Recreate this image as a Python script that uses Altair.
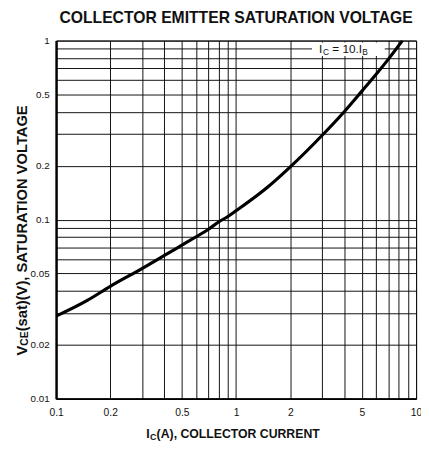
import altair as alt
import pandas as pd

# Curve (collector current in A, V_CE(sat) in V)
ic_amps = [0.1, 0.15, 0.2, 0.3, 0.4, 0.5, 0.6, 0.7, 0.8, 0.9, 1.0, 1.5, 2.0, 3.0, 4.0, 5.0, 6.0, 7.0, 8.4]
vce_sat = [0.0289, 0.0355, 0.0424, 0.0533, 0.0631, 0.072, 0.0802, 0.0881, 0.097, 0.104, 0.112,
           0.152, 0.197, 0.295, 0.402, 0.522, 0.648, 0.785, 1.0]

# Grid / tick values
x_grid = [0.1, 0.2, 0.3, 0.4, 0.5, 0.6, 0.7, 0.8, 0.9, 1, 2, 3, 4, 5, 6, 7, 8, 9, 10]
y_grid = [0.01, 0.02, 0.03, 0.04, 0.05, 0.06, 0.07, 0.08, 0.09,
          0.1, 0.2, 0.3, 0.4, 0.5, 0.6, 0.7, 0.8, 0.9, 1]
x_label_vals = [0.1, 0.2, 0.5, 1, 2, 5, 10]
x_label_txt = ["0.1", "0.2", "0.5", "1", "2", "5", "10"]
y_label_vals = [0.01, 0.02, 0.05, 0.1, 0.2, 0.5, 1]
y_label_txt = ["0.01", "0.02", "0.05", "0.1", "0.2", "0.5", "1"]

# Annotation "IC = 10.IB" (data units)
note_x = 2.89
note_y = 0.90
box_x = [2.64, 6.7]
box_y = [0.82, 0.975]

FONT = "Liberation Sans"
INK = "#111"


def label_expr(vals, txt):
    return (f"indexof({vals}, datum.value) >= 0 ? "
            f"{txt}[indexof({vals}, datum.value)] : ''")


df = pd.DataFrame({"ic": ic_amps, "vce": vce_sat})

xs = alt.Scale(type="log", domain=[0.1, 10], nice=False)
ys = alt.Scale(type="log", domain=[0.01, 1], nice=False)

x_axis = alt.Axis(
    values=x_grid, labelExpr=label_expr(x_label_vals, x_label_txt),
    grid=True, gridColor=INK, gridWidth=1, ticks=False,
    domainColor="black", domainWidth=2, labelFlush=False, labelOverlap=False,
    labelFont=FONT, labelFontSize=10.5, labelColor=INK, labelPadding=9,
    title="",
)
y_axis = alt.Axis(
    values=y_grid, labelExpr=label_expr(y_label_vals, y_label_txt),
    grid=True, gridColor=INK, gridWidth=1, ticks=False,
    domainColor="black", domainWidth=2.5, labelFlush=False, labelOverlap=False,
    labelFont=FONT, labelFontSize=10, labelColor=INK, labelPadding=7,
    title="",
)

curve = alt.Chart(df).mark_line(
    color="black", strokeWidth=3.2, interpolate="monotone", clip=True
).encode(
    x=alt.X("ic:Q", scale=xs, axis=x_axis),
    y=alt.Y("vce:Q", scale=ys, axis=y_axis),
)

box_df = pd.DataFrame({"x1": [box_x[0]], "x2": [box_x[1]], "y1": [box_y[0]], "y2": [box_y[1]]})
box = alt.Chart(box_df).mark_rect(color="white").encode(
    x=alt.X("x1:Q", scale=xs), x2="x2:Q",
    y=alt.Y("y1:Q", scale=ys), y2="y2:Q",
)

note_df = pd.DataFrame({"x": [note_x], "y": [note_y]})
nb = alt.Chart(note_df).encode(x=alt.X("x:Q", scale=xs), y=alt.Y("y:Q", scale=ys))
txt_kw = dict(align="left", baseline="middle", font=FONT, color=INK)
n1 = nb.mark_text(text="I", fontSize=12, **txt_kw)
n2 = nb.mark_text(text="C", fontSize=8.5, dx=4, dy=3, **txt_kw)
n3 = nb.mark_text(text="= 10.I", fontSize=12, dx=13.5, **txt_kw)
n4 = nb.mark_text(text="B", fontSize=8.5, dx=44, dy=3, **txt_kw)

# Axis titles with subscripts, built from text pieces
one = pd.DataFrame({"k": [0]})
bold = dict(font=FONT, fontWeight="bold", color=INK, align="left", baseline="middle")
xt_x, xt_y = 92, 401
xt1 = alt.Chart(one).mark_text(text="I", fontSize=12.5, **bold).encode(x=alt.value(xt_x), y=alt.value(xt_y))
xt2 = alt.Chart(one).mark_text(text="C", fontSize=9, dx=3.8, dy=3, **bold).encode(x=alt.value(xt_x), y=alt.value(xt_y))
xt3 = alt.Chart(one).mark_text(text="(A), COLLECTOR CURRENT", fontSize=12.5, dx=10.5, **bold).encode(x=alt.value(xt_x), y=alt.value(xt_y))

yt_x, yt_y = -35, 321
yt1 = alt.Chart(one).mark_text(text="V", fontSize=15, angle=270, **bold).encode(x=alt.value(yt_x), y=alt.value(yt_y))
yt2 = alt.Chart(one).mark_text(text="CE", fontSize=10.5, angle=270, dx=10, dy=3.5, **bold).encode(x=alt.value(yt_x), y=alt.value(yt_y))
yt3 = alt.Chart(one).mark_text(text="(sat)(V), SATURATION VOLTAGE", fontSize=15, angle=270, dx=24.6, **bold).encode(x=alt.value(yt_x), y=alt.value(yt_y))

chart = alt.layer(box, curve, n1, n2, n3, n4, xt1, xt2, xt3, yt1, yt2, yt3).properties(
    width=367, height=365,
    title=alt.TitleParams(
        "COLLECTOR EMITTER SATURATION VOLTAGE", font=FONT, fontSize=16,
        fontWeight="bold", anchor="middle", frame="group", offset=10, color=INK,
    ),
    autosize=alt.AutoSizeParams(type="none"),
    padding={"left": 49, "top": 29, "right": 5, "bottom": 40},
).configure_view(stroke="black", strokeWidth=1)

chart.save("out.html", embed_options={"renderer": "svg", "actions": False})
